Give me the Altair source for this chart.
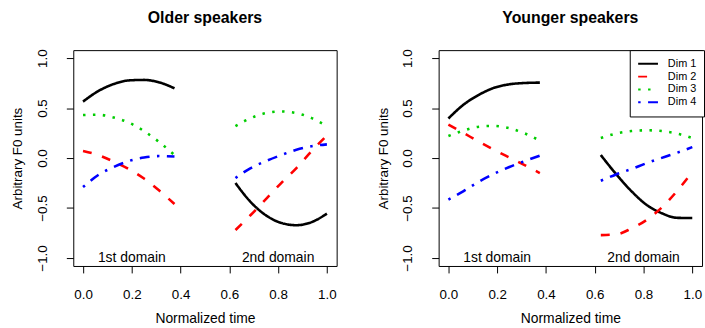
import altair as alt
import pandas as pd

FONT = "Liberation Sans"

# ---- data ----
x_first = [0.0, 0.0625, 0.125, 0.1875, 0.25, 0.3125, 0.375]
x_second = [0.625, 0.6875, 0.75, 0.8125, 0.875, 0.9375, 1.0]

older_dim1 = [0.565, 0.67, 0.74, 0.777, 0.782, 0.757, 0.698,
              -0.25, -0.44, -0.573, -0.649, -0.672, -0.641, -0.556]
older_dim2 = [0.07, 0.03, -0.035, -0.11, -0.205, -0.325, -0.46,
              -0.72, -0.57, -0.41, -0.25, -0.10, 0.07, 0.225]
older_dim3 = [0.43, 0.433, 0.406, 0.355, 0.27, 0.16, 0.03,
              0.32, 0.40, 0.45, 0.466, 0.45, 0.40, 0.32]
older_dim4 = [-0.29, -0.17, -0.09, -0.03, 0.005, 0.02, 0.015,
              -0.2, -0.1, -0.03, 0.03, 0.083, 0.118, 0.137]

younger_dim1 = [0.396, 0.535, 0.633, 0.703, 0.738, 0.751, 0.755,
                0.03, -0.16, -0.33, -0.468, -0.552, -0.598, -0.6]
younger_dim2 = [0.335, 0.25, 0.164, 0.082, 0.005, -0.071, -0.15,
                -0.771, -0.764, -0.705, -0.62, -0.495, -0.33, -0.14]
younger_dim3 = [0.22, 0.275, 0.314, 0.322, 0.298, 0.247, 0.175,
                0.2, 0.245, 0.27, 0.278, 0.27, 0.245, 0.2]
younger_dim4 = [-0.416, -0.33, -0.236, -0.157, -0.089, -0.031, 0.024,
                -0.227, -0.164, -0.11, -0.051, 0.002, 0.053, 0.11]

dims = ["Dim 1", "Dim 2", "Dim 3", "Dim 4"]
dim_colors = ["#000000", "#FF0000", "#00CD00", "#0000FF"]
dim_dashes = [[1, 0], [9, 11], [2.5, 7.5], [2.5, 7.5, 10, 7.5]]

x_ticks = [0.0, 0.2, 0.4, 0.6, 0.8, 1.0]
y_ticks = [-1.0, -0.5, 0.0, 0.5, 1.0]

domain_labels = ["1st domain", "2nd domain"]
domain_label_x = [0.2, 0.8]
domain_label_y = [-1.0, -1.0]

panels = {
    "Older speakers": [older_dim1, older_dim2, older_dim3, older_dim4],
    "Younger speakers": [younger_dim1, younger_dim2, younger_dim3, younger_dim4],
}

xs = x_first + x_second
segs = ["first"] * len(x_first) + ["second"] * len(x_second)

rows = []
for pname, series in panels.items():
    for dname, vals in zip(dims, series):
        for xv, yv, sg in zip(xs, vals, segs):
            rows.append({"panel": pname, "dim": dname, "seg": sg, "x": xv, "y": yv})
df = pd.DataFrame(rows)

label_df = pd.DataFrame({"x": domain_label_x, "y": domain_label_y, "label": domain_labels})

W, H = 266, 218
xscale = alt.Scale(domain=[-0.04, 1.04], nice=False, zero=False)
yscale = alt.Scale(domain=[-1.08, 1.08], nice=False, zero=False)

xaxis = alt.Axis(values=x_ticks, format=".1f", grid=False, domain=False,
                 tickSize=7, tickColor="black", tickWidth=1,
                 labelFont=FONT, labelFontSize=13.5, labelColor="black",
                 labelPadding=15, labelFlush=False, labelOverlap=False,
                 titleFont=FONT, titleFontSize=14, titleFontWeight="normal",
                 titleColor="black", titleX=W / 2, titleY=57,
                 titleBaseline="alphabetic", titleAlign="center")
yaxis = alt.Axis(values=y_ticks, format=".1f", grid=False, domain=False,
                 tickSize=7, tickColor="black", tickWidth=1,
                 labelFont=FONT, labelFontSize=13.5, labelColor="black",
                 labelAngle=270, labelAlign="center", labelBaseline="middle",
                 labelPadding=24, labelFlush=False, labelOverlap=False,
                 titleFont=FONT, titleFontSize=13.5, titleFontWeight="normal",
                 titleColor="black", titleAngle=270, titleAlign="center",
                 titleBaseline="middle", titleX=-56, titleY=H / 2)


def panel(pname, show_legend):
    d = df[df["panel"] == pname]
    if show_legend:
        leg = alt.Legend(title=None, orient="none", legendX=193, legendY=0,
                         strokeColor="black", fillColor="white", padding=7.5,
                         cornerRadius=0, symbolType="stroke", symbolSize=400,
                         symbolStrokeWidth=2, labelFont=FONT, labelFontSize=11,
                         labelColor="black", labelOffset=9, rowPadding=0,
                         clipHeight=12.5)
    else:
        leg = None
    xenc = alt.X("x:Q", scale=xscale, axis=xaxis, title="Normalized time")
    yenc = alt.Y("y:Q", scale=yscale, axis=yaxis, title="Arbitrary F0 units")
    lines = alt.Chart(d).mark_line(strokeWidth=2.6, interpolate="monotone").encode(
        x=xenc,
        y=yenc,
        color=alt.Color("dim:N", scale=alt.Scale(domain=dims, range=dim_colors), legend=leg),
        strokeDash=alt.StrokeDash("dim:N", scale=alt.Scale(domain=dims, range=dim_dashes), legend=leg),
        detail="seg:N",
    )
    texts = alt.Chart(label_df).mark_text(font=FONT, fontSize=14, color="black",
                                          baseline="middle", align="center").encode(
        x=xenc,
        y=yenc,
        text="label:N",
    )
    return alt.layer(lines, texts).properties(
        width=W, height=H,
        title=alt.Title(pname, font=FONT, fontSize=16, fontWeight="bold", color="black",
                        anchor="middle", baseline="alphabetic", offset=10),
    )


chart = alt.hconcat(panel("Older speakers", False), panel("Younger speakers", True), spacing=38).resolve_scale(
    color="independent", strokeDash="independent"
).resolve_legend(color="independent", strokeDash="independent").properties(
    padding={"left": 10, "top": 8, "right": 0, "bottom": 0},
    background="white",
).configure_view(stroke="black", strokeWidth=1)

chart.save("out.html", embed_options={"renderer": "svg", "actions": False})
